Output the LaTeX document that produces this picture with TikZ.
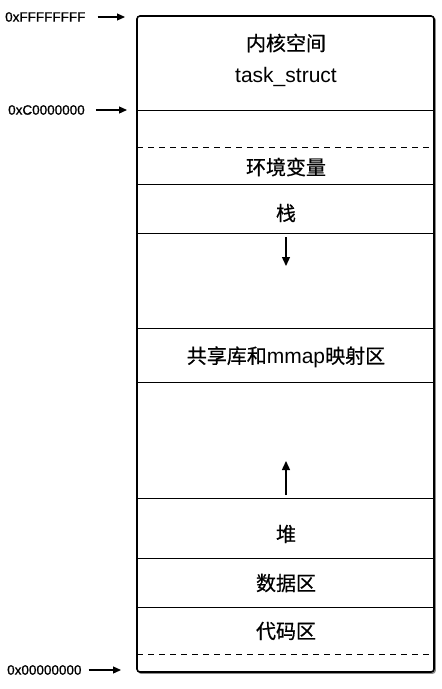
\documentclass[tikz,border=0pt]{standalone}
\usepackage{fontspec}
\setmainfont{Liberation Sans}
\newfontfamily\cjk[FakeBold=0.5]{Noto Sans CJK SC}
\newfontfamily\addrfont[FakeBold=1]{Liberation Sans}
\usetikzlibrary{arrows.meta}
\begin{document}
\begin{tikzpicture}[x=1pt,y=-1pt,
  sep/.style={line width=1pt},
  dsep/.style={line width=1pt,dash pattern=on 6pt off 5pt},
  lab/.style={font=\fontsize{20}{22}\selectfont, inner sep=0pt},
  addr/.style={font=\addrfont\fontsize{13.5}{15}\selectfont, anchor=west, inner sep=0pt},
  ptr/.style={line width=1.2pt,-{Triangle[length=8pt,width=7pt]}},
  growarrow/.style={line width=1.4pt,-{Triangle[length=9pt,width=8pt]}}]
\useasboundingbox (0,0) rectangle (442,689);
\fill[white] (0,0) rectangle (442,689);
% shadow and outer box
\fill[black!45, rounded corners=3pt] (137.8,16.8) rectangle (435.8,673.8);
\draw[line width=1.6pt, rounded corners=3pt, fill=white] (137,16) rectangle (434,672);
% coordinates of the box edges
\coordinate (L110) at (137,110); \coordinate (R110) at (434,110);
\coordinate (L147) at (137,147); \coordinate (R147) at (434,147);
\coordinate (L184) at (137,184); \coordinate (R184) at (434,184);
\coordinate (L233) at (137,233); \coordinate (R233) at (434,233);
\coordinate (L328) at (137,328); \coordinate (R328) at (434,328);
\coordinate (L382) at (137,382); \coordinate (R382) at (434,382);
\coordinate (L498) at (137,498); \coordinate (R498) at (434,498);
\coordinate (L558) at (137,558); \coordinate (R558) at (434,558);
\coordinate (L607) at (137,607); \coordinate (R607) at (434,607);
\coordinate (L654) at (137,654); \coordinate (R654) at (434,654);
\draw[sep] (L110) -- (R110);
\draw[dsep] (L147) -- (R147);
\draw[sep] (L184) -- (R184);
\draw[sep] (L233) -- (R233);
\draw[sep] (L328) -- (R328);
\draw[sep] (L382) -- (R382);
\draw[sep] (L498) -- (R498);
\draw[sep] (L558) -- (R558);
\draw[sep] (L607) -- (R607);
\draw[dsep] (L654) -- (R654);
% labels
\node[lab] (kern) at (286,43) {\cjk 内核空间};
\node[lab, font=\fontsize{21}{23}\selectfont] (task) at (286,77) {task\_struct};
\node[lab] (env) at (286,167) {\cjk 环境变量};
\node[lab] (stack) at (286,213) {\cjk 栈};
\node[lab] (mmap) at (286,357) {{\cjk 共享库和}{\fontsize{21}{23}\selectfont mmap}{\cjk 映射区}};
\node[lab] (heap) at (286,534) {\cjk 堆};
\node[lab] (data) at (286,583) {\cjk 数据区};
\node[lab] (code) at (286,631) {\cjk 代码区};
% growth arrows
\coordinate (sd0) at (286,237); \coordinate (sd1) at (286,266);
\draw[growarrow] (sd0) -- (sd1);
\coordinate (hu0) at (286,495); \coordinate (hu1) at (286,461);
\draw[growarrow] (hu0) -- (hu1);
% addresses
\node[addr] (aF) at (5,17) {0xFFFFFFFF};
\node[addr] (aC) at (8,110) {0xC0000000};
\node[addr] (a0) at (7,670) {0x00000000};
\coordinate (tF) at (125,17);
\coordinate (tC) at (127,110);
\coordinate (t0) at (121,670);
\draw[ptr] ([xshift=12pt]aF.east) -- (tF);
\draw[ptr] ([xshift=11pt]aC.east) -- (tC);
\draw[ptr] ([xshift=7pt]a0.east) -- (t0);
\end{tikzpicture}
\end{document}
